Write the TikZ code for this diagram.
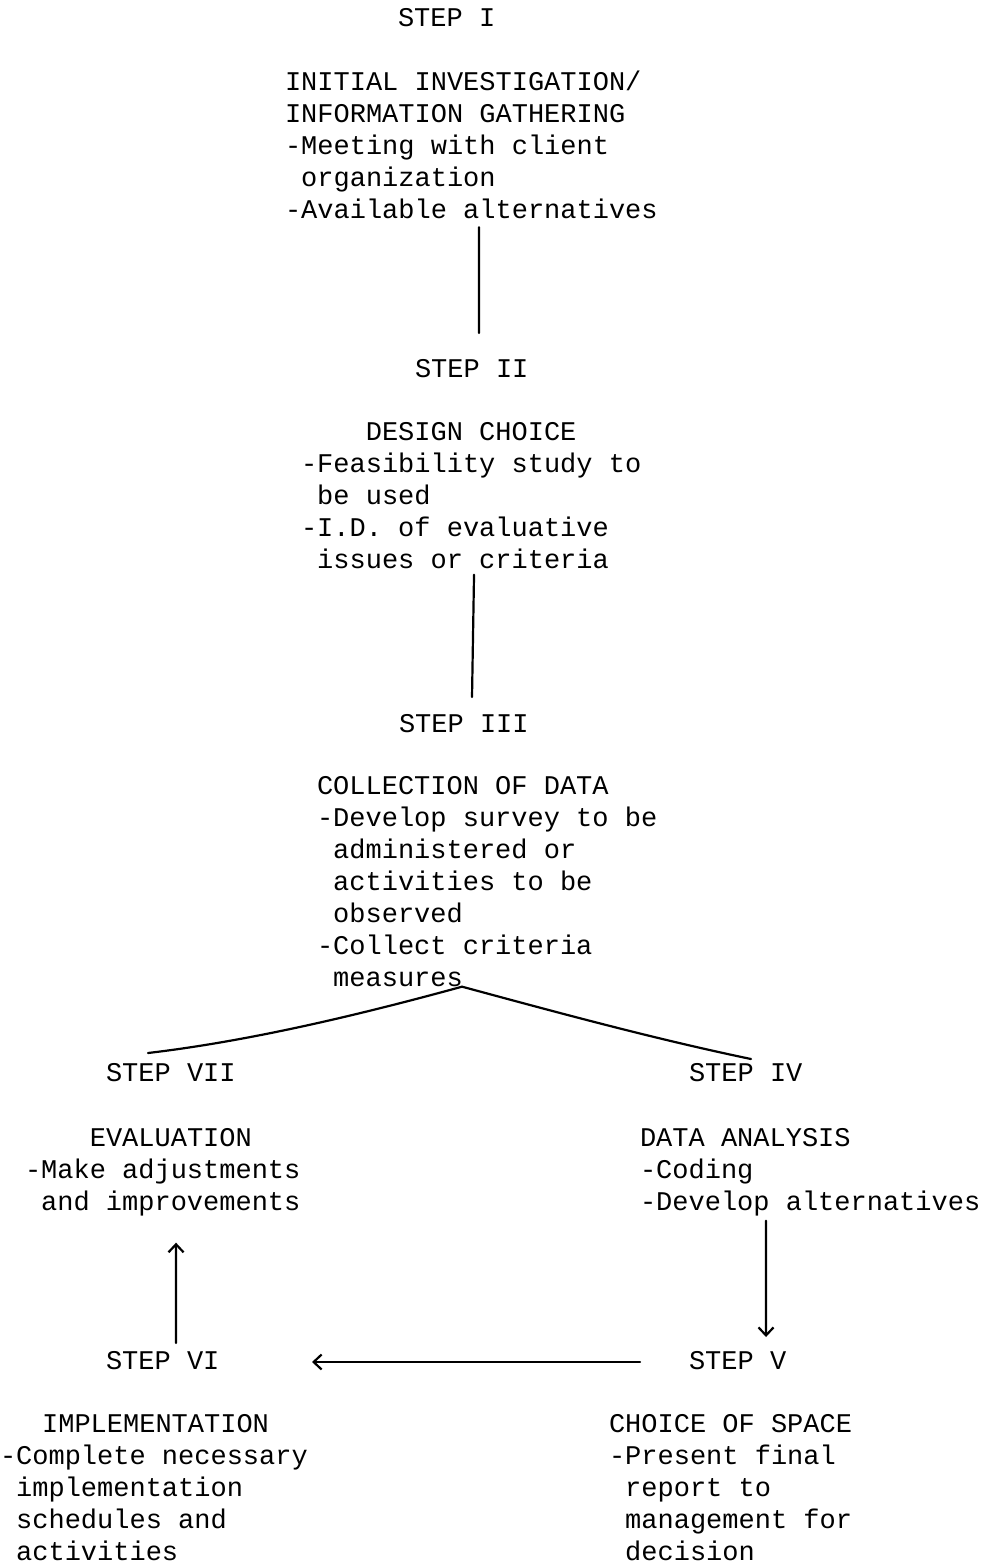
\documentclass[tikz,border=0pt]{standalone}
\usepackage{fontspec}
\setmonofont{Liberation Mono}
\usetikzlibrary{arrows.meta,calc}
\newlength\chw
\setlength\chw{16.2pt}
\newcommand\ind[1]{\hspace*{#1\chw}}
\begin{document}
\begin{tikzpicture}[x=1pt,y=-1pt,
  txt/.style={anchor=north west, inner sep=0pt, outer sep=0pt, align=left,
    font=\ttfamily\fontsize{27}{32}\selectfont,
    execute at begin node=\strut, execute at end node=\strut},
  conn/.style={line width=2.2pt, line cap=round},
  arr/.style={conn, -{Straight Barb[length=8pt,width=15pt]}}]
\useasboundingbox (0,0) rectangle (984,1564);

% step labels
\node[txt] (s1) at (398,3.6)    {STEP I};
\node[txt] (s2) at (415,354.6)  {STEP II};
\node[txt] (s3) at (399,709.6)  {STEP III};
\node[txt] (s7) at (106,1058.6) {STEP VII};
\node[txt] (s4) at (689,1058.6) {STEP IV};
\node[txt] (s6) at (106,1346.6) {STEP VI};
\node[txt] (s5) at (689,1346.6) {STEP V};

% text blocks
\node[txt] (b1) at (285,70.6) {INITIAL INVESTIGATION/\\INFORMATION GATHERING\\-Meeting with client\\\ind{1}organization\\-Available alternatives};
\node[txt] (b2) at (301,422.6) {\ind{4}DESIGN CHOICE\\-Feasibility study to\\\ind{1}be used\\-I.D. of evaluative\\\ind{1}issues or criteria};
\node[txt] (b3) at (317,776.6) {COLLECTION OF DATA\\-Develop survey to be\\\ind{1}administered or\\\ind{1}activities to be\\\ind{1}observed\\-Collect criteria\\\ind{1}measures};
\node[txt] (b7) at (25,1128.6) {\ind{4}EVALUATION\\-Make adjustments\\\ind{1}and improvements};
\node[txt] (b4) at (640,1128.6) {DATA ANALYSIS\\-Coding\\-Develop alternatives};
\node[txt] (b6) at (0,1414.6) {\ind{2.6}IMPLEMENTATION\\-Complete necessary\\\ind{1}implementation\\\ind{1}schedules and\\\ind{1}activities};
\node[txt] (b5) at (609,1414.6) {CHOICE OF SPACE\\-Present final\\\ind{1}report to\\\ind{1}management for\\\ind{1}decision};

% connectors
\draw[conn] ($(b1.south)+(7.7,-0.6)$) -- ($(s2.north)+(7.3,-21.6)$);
\draw[conn] ($(b2.south)+(2.9,-3.6)$) -- ($(s3.north)+(8.2,-12.6)$);

\coordinate (apex) at ($(b3.south)+(-25.1,-9.6)$);
\coordinate (lend) at ($(s7.north)+(-22.8,-5.6)$);
\coordinate (rend) at ($(s4.north)+(5.3,0.4)$);
\draw[conn] (apex) .. controls +(-102,28) and +(102,-12) .. (lend);
\draw[conn] (apex) .. controls +(96,26) and +(-96,-20) .. (rend);

\draw[arr] ($(s6.north)+(13.3,-3.6)$) -- ($(b7.south)+(13.3,22.4)$);
\draw[arr] ($(b4.south)+(-44.1,0.4)$) -- ($(s5.north)+(28.4,-9.6)$);
\draw[arr] ($(s5.west)+(-49,-0.6)$) -- ($(s6.east)+(92.6,-0.6)$);
\end{tikzpicture}
\end{document}
